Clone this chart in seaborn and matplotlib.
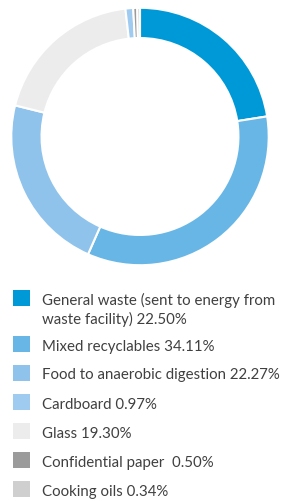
import matplotlib
matplotlib.use("Agg")
import matplotlib.pyplot as plt
from matplotlib.patches import Rectangle
import seaborn as sns

# Data (legend order)
labels = [
    "General waste (sent to energy from\nwaste facility) 22.50%",
    "Mixed recyclables 34.11%",
    "Food to anaerobic digestion 22.27%",
    "Cardboard 0.97%",
    "Glass 19.30%",
    "Confidential paper  0.50%",
    "Cooking oils 0.34%",
]
values = [22.50, 34.11, 22.27, 0.97, 19.30, 0.50, 0.34]
colors = ["#0099d8", "#67b6e5", "#8fc3eb", "#9ecbef", "#ececec", "#9b9b9b", "#cfcfcf"]
# order of slices around the ring (clockwise from top)
ring_order = [0, 1, 2, 4, 3, 5, 6]

sns.set_theme(style="white")
plt.rcParams["font.family"] = ["Lato", "DejaVu Sans"]

W, H = 284, 502
fig = plt.figure(figsize=(W / 100, H / 100), dpi=100)
fig.patch.set_facecolor("white")

cx, cy, R = 140, 137.5, 130
ax = fig.add_axes([(cx - R) / W, 1 - (cy + R) / H, 2 * R / W, 2 * R / H])
ax.pie(
    [values[i] for i in ring_order],
    colors=[colors[i] for i in ring_order],
    startangle=90,
    counterclock=False,
    radius=1,
    wedgeprops=dict(width=0.235, edgecolor="white", linewidth=1.5),
)
ax.set_xlim(-1.01, 1.01)
ax.set_ylim(-1.01, 1.01)
ax.set_aspect("equal")
ax.axis("off")

# Legend
row_centers = [299, 345, 373.5, 403, 432, 461, 490]
for lab, col, yc in zip(labels, colors, row_centers):
    fig.patches.append(
        Rectangle((13.3 / W, 1 - (yc + 8) / H), 17 / W, 16 / H,
                  transform=fig.transFigure, facecolor=col, edgecolor="none")
    )
    for i, line in enumerate(lab.split("\n")):
        fig.text(42 / W, 1 - (yc + 6 + 19 * i) / H, line, fontsize=10.8,
                 color="#404040", va="baseline", ha="left")

fig.savefig("out.png", dpi=100)
